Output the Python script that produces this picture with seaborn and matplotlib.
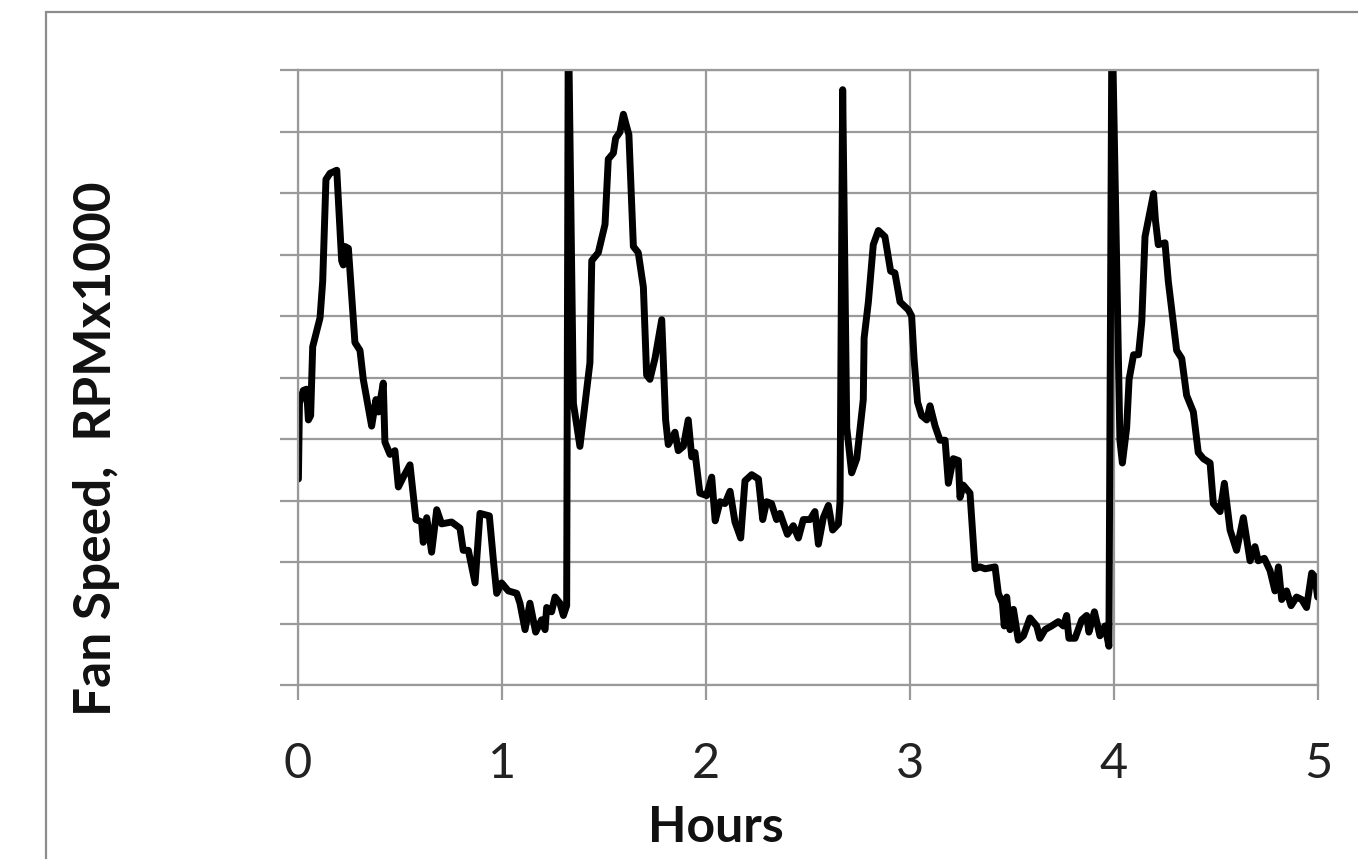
import matplotlib
matplotlib.use("Agg")
import matplotlib.pyplot as plt
from matplotlib.patches import Rectangle
import seaborn as sns
import pandas as pd

# ---- data (hours, fan speed in grid units: RPM x1000 axis, 10 divisions) ----
hours = [
    0.002, 0.007, 0.026, 0.042, 0.051, 0.062, 0.072, 0.108, 0.121, 0.137,
    0.157, 0.190, 0.214, 0.222, 0.230, 0.247, 0.279, 0.304, 0.320, 0.361,
    0.382, 0.394, 0.418, 0.426, 0.451, 0.475, 0.492, 0.516, 0.549, 0.578,
    0.606, 0.614, 0.631, 0.655, 0.680, 0.704, 0.753, 0.794, 0.810, 0.835,
    0.868, 0.892, 0.938, 0.958, 0.974, 0.998, 1.031, 1.072, 1.088, 1.113,
    1.137, 1.165, 1.194, 1.211, 1.219, 1.243, 1.260, 1.284, 1.301, 1.317,
    1.325, 1.350, 1.382, 1.431, 1.440, 1.472, 1.505, 1.521, 1.546, 1.557,
    1.578, 1.595, 1.611, 1.622, 1.644, 1.668, 1.693, 1.709, 1.725, 1.750,
    1.783, 1.802, 1.815, 1.848, 1.864, 1.889, 1.913, 1.930, 1.946, 1.970,
    2.003, 2.028, 2.045, 2.069, 2.093, 2.118, 2.142, 2.170, 2.191, 2.224,
    2.257, 2.278, 2.297, 2.321, 2.346, 2.363, 2.399, 2.428, 2.453, 2.477,
    2.510, 2.534, 2.551, 2.575, 2.600, 2.621, 2.649, 2.657, 2.670, 2.690,
    2.714, 2.739, 2.771, 2.775, 2.796, 2.820, 2.845, 2.877, 2.905, 2.926,
    2.951, 2.992, 3.008, 3.020, 3.037, 3.057, 3.082, 3.098, 3.123, 3.147,
    3.172, 3.188, 3.212, 3.237, 3.245, 3.261, 3.294, 3.319, 3.343, 3.368,
    3.417, 3.433, 3.453, 3.462, 3.474, 3.490, 3.507, 3.531, 3.556, 3.588,
    3.621, 3.637, 3.662, 3.694, 3.727, 3.752, 3.768, 3.779, 3.809, 3.842,
    3.866, 3.877, 3.904, 3.931, 3.956, 3.975, 3.990, 4.029, 4.041, 4.062,
    4.074, 4.096, 4.120, 4.136, 4.152, 4.194, 4.203, 4.217, 4.250, 4.266,
    4.307, 4.332, 4.356, 4.389, 4.413, 4.438, 4.471, 4.487, 4.520, 4.541,
    4.569, 4.601, 4.634, 4.667, 4.691, 4.707, 4.737, 4.765, 4.789, 4.806,
    4.822, 4.846, 4.868, 4.895, 4.920, 4.944, 4.969, 4.985, 4.998,
]
fan_speed = [
    3.35, 4.58, 4.79, 4.81, 4.31, 4.38, 5.50, 5.97, 6.56, 8.22,
    8.32, 8.37, 6.90, 6.83, 7.13, 7.10, 5.57, 5.44, 4.97, 4.21,
    4.64, 4.44, 4.91, 3.95, 3.75, 3.81, 3.22, 3.38, 3.58, 2.69,
    2.65, 2.32, 2.72, 2.16, 2.85, 2.62, 2.65, 2.55, 2.19, 2.19,
    1.66, 2.79, 2.75, 2.02, 1.49, 1.66, 1.53, 1.49, 1.33, 0.90,
    1.33, 0.86, 1.06, 0.90, 1.26, 1.19, 1.43, 1.33, 1.13, 1.29,
    11.0, 4.58, 3.88, 5.24, 6.90, 7.03, 7.49, 8.55, 8.65, 8.89,
    8.99, 9.28, 9.08, 8.95, 7.13, 7.03, 6.47, 5.04, 4.97, 5.31,
    5.94, 4.31, 3.91, 4.11, 3.81, 3.88, 4.31, 3.71, 3.78, 3.12,
    3.08, 3.38, 2.67, 2.98, 2.95, 3.15, 2.65, 2.39, 3.32, 3.42,
    3.35, 2.69, 2.98, 2.95, 2.69, 2.79, 2.45, 2.59, 2.39, 2.69,
    2.69, 2.82, 2.29, 2.72, 2.92, 2.52, 2.62, 2.98, 9.68, 4.18,
    3.45, 3.68, 4.64, 5.64, 6.23, 7.16, 7.39, 7.29, 6.73, 6.70,
    6.23, 6.10, 6.00, 5.30, 4.60, 4.38, 4.31, 4.54, 4.21, 3.98,
    3.98, 3.28, 3.68, 3.65, 3.05, 3.25, 3.12, 1.89, 1.92, 1.89,
    1.92, 1.49, 1.33, 0.96, 1.43, 0.90, 1.23, 0.73, 0.80, 1.09,
    0.96, 0.76, 0.90, 0.96, 1.03, 0.96, 1.13, 0.76, 0.76, 1.06,
    1.13, 0.86, 1.19, 0.80, 0.96, 0.63, 11.0, 3.98, 3.61, 4.18,
    4.97, 5.37, 5.37, 5.90, 7.29, 7.99, 7.56, 7.16, 7.19, 6.57,
    5.44, 5.31, 4.71, 4.44, 3.78, 3.68, 3.61, 2.95, 2.82, 3.28,
    2.52, 2.19, 2.72, 2.02, 2.25, 2.02, 2.06, 1.86, 1.53, 1.92,
    1.39, 1.53, 1.29, 1.43, 1.39, 1.26, 1.82, 1.76, 1.43,
]
x_ticks = [0, 1, 2, 3, 4, 5]
x_tick_labels = ["0", "1", "2", "3", "4", "5"]
x_label = "Hours"
y_label = "Fan Speed,  RPMx1000"

df = pd.DataFrame({"Hours": hours, "Speed": fan_speed})

sns.set_style("white")
plt.rcParams["font.family"] = ["Lato", "DejaVu Sans"]

W, H = 1358, 859
fig = plt.figure(figsize=(W / 100, H / 100), dpi=100)
ax = fig.add_axes([298 / W, 1 - 685 / H, (1318 - 298) / W, (685 - 70) / H])

sns.lineplot(data=df, x="Hours", y="Speed", ax=ax, color="black",
             linewidth=5.0, sort=False, estimator=None)
for ln in ax.lines:
    ln.set_solid_joinstyle("round")
    ln.set_solid_capstyle("round")

grid_c = "#9a9a9a"
ax.set_xlim(0, 5)
ax.set_ylim(0, 10)
ax.set_xticks(x_ticks)
ax.set_xticklabels(x_tick_labels)
ax.set_yticks(range(0, 11))
ax.set_yticklabels([])
ax.grid(True, color=grid_c, linewidth=1.6)
ax.set_axisbelow(True)
for s in ax.spines.values():
    s.set_visible(True)
    s.set_color(grid_c)
    s.set_linewidth(1.6)
ax.tick_params(axis="x", bottom=True, direction="out", length=11, width=1.6,
               color=grid_c, pad=30, labelsize=35, labelcolor="#222222")
ax.tick_params(axis="y", left=True, direction="out", length=13, width=1.6,
               color=grid_c)
ax.set_xlabel("")
ax.set_ylabel("")

fig.text(716 / W, 1 - 842 / H, x_label, ha="center", va="baseline",
         fontsize=36, fontweight="bold", color="#111111")
fig.text(111 / W, 1 - 449 / H, y_label, ha="center", va="baseline",
         rotation=90, rotation_mode="anchor",
         fontsize=37, fontweight="bold", color="#111111")

border = Rectangle((46 / W, -0.2), 1.5, (1 - 12 / H) + 0.2,
                   transform=fig.transFigure, fill=False,
                   edgecolor="#8c8c8c", linewidth=1.6, clip_on=False)
fig.patches.append(border)

fig.savefig("out.png", dpi=100)
